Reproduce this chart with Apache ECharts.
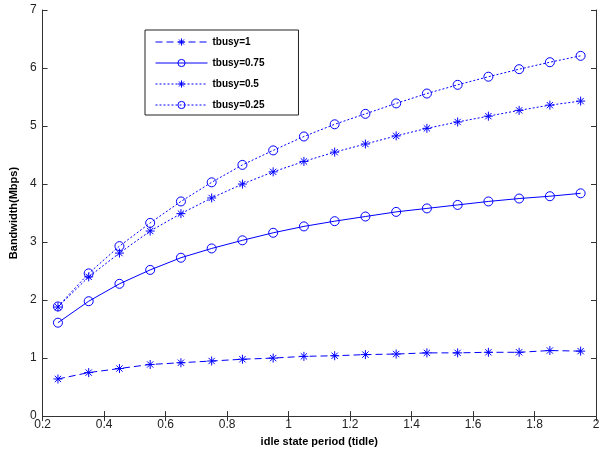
<!DOCTYPE html>
<html>
<head>
<meta charset="utf-8">
<script src="https://cdn.jsdelivr.net/npm/echarts@6/dist/echarts.min.js"></script>
<style>
  html, body { margin: 0; padding: 0; background: #fff; }
  #chart { width: 604px; height: 452px; }
</style>
</head>
<body>
<div id="chart"></div>
<script>
// idle state period (tidle)
var tidle = [0.25, 0.35, 0.45, 0.55, 0.65, 0.75, 0.85, 0.95, 1.05, 1.15,
             1.25, 1.35, 1.45, 1.55, 1.65, 1.75, 1.85, 1.95];

// bandwidth (Mbps) for each tbusy
var bw1   = [0.64, 0.75, 0.82, 0.89, 0.92, 0.95, 0.98, 1.00, 1.03, 1.04,
             1.06, 1.07, 1.09, 1.09, 1.10, 1.10, 1.13, 1.12];
var bw075 = [1.61, 1.98, 2.28, 2.52, 2.73, 2.89, 3.03, 3.16, 3.27, 3.36,
             3.44, 3.52, 3.58, 3.64, 3.70, 3.75, 3.79, 3.84];
var bw05  = [1.88, 2.40, 2.81, 3.19, 3.49, 3.76, 4.00, 4.21, 4.39, 4.55,
             4.69, 4.83, 4.96, 5.07, 5.17, 5.27, 5.36, 5.43];
var bw025 = [1.89, 2.46, 2.93, 3.33, 3.70, 4.03, 4.33, 4.58, 4.82, 5.03,
             5.21, 5.39, 5.56, 5.71, 5.85, 5.98, 6.10, 6.21];

var seriesNames = ['tbusy=1', 'tbusy=0.75', 'tbusy=0.5', 'tbusy=0.25'];

var blue = '#0000ff';
var star = 'path://M0,-1L0,1M-1,0L1,0M-0.7,-0.7L0.7,0.7M-0.7,0.7L0.7,-0.7';
var font = 'Liberation Sans, Arial, sans-serif';

function pairs(ys) {
  return tidle.map(function (x, i) { return [x, ys[i]]; });
}

function makeSeries(name, ys, symbol, dash) {
  return {
    name: name,
    type: 'line',
    data: pairs(ys),
    symbol: symbol,
    symbolSize: 9,
    showAllSymbol: true,
    lineStyle: { color: blue, width: 1, type: dash },
    itemStyle: {
      color: symbol === 'circle' ? 'rgba(0,0,0,0)' : blue,
      borderColor: blue,
      borderWidth: 1
    },
    emphasis: { disabled: true },
    animation: false
  };
}

var chart = echarts.init(document.getElementById('chart'));

var axisLine = { show: true, lineStyle: { color: '#333', width: 1 } };
var axisTick = { show: true, inside: true, length: 5, lineStyle: { color: '#333' } };

chart.setOption({
  backgroundColor: '#fff',
  animation: false,
  grid: { left: 42, right: 8, top: 10, bottom: 34 },
  legend: {
    orient: 'vertical',
    left: 145,
    top: 30,
    data: seriesNames,
    itemWidth: 52,
    itemHeight: 9,
    itemGap: 11,
    padding: [7, 34, 5, 10],
    borderColor: '#222',
    borderWidth: 1,
    backgroundColor: '#fff',
    lineStyle: { width: 1 },
    itemStyle: { borderWidth: 1 },
    textStyle: { fontFamily: font, fontWeight: 'bold', fontSize: 10, color: '#000' }
  },
  xAxis: [{
    type: 'value',
    min: 0.2,
    max: 2,
    interval: 0.2,
    name: 'idle state period (tidle)',
    nameLocation: 'middle',
    nameGap: 17,
    nameTextStyle: { fontFamily: font, fontWeight: 'bold', fontSize: 11, color: '#000' },
    axisLine: axisLine,
    axisTick: axisTick,
    axisLabel: { fontFamily: font, fontSize: 12, color: '#222', margin: 3 },
    splitLine: { show: false }
  }, {
    type: 'value',
    position: 'top',
    min: 0.2,
    max: 2,
    interval: 0.2,
    axisLine: axisLine,
    axisTick: axisTick,
    axisLabel: { show: false },
    splitLine: { show: false }
  }],
  yAxis: [{
    type: 'value',
    min: 0,
    max: 7,
    interval: 1,
    name: 'Bandwidth(Mbps)',
    nameLocation: 'middle',
    nameGap: 20,
    nameTextStyle: { fontFamily: font, fontWeight: 'bold', fontSize: 11, color: '#000' },
    axisLine: axisLine,
    axisTick: axisTick,
    axisLabel: { fontFamily: font, fontSize: 12, color: '#222', margin: 6 },
    splitLine: { show: false }
  }, {
    type: 'value',
    position: 'right',
    min: 0,
    max: 7,
    interval: 1,
    axisLine: axisLine,
    axisTick: axisTick,
    axisLabel: { show: false },
    splitLine: { show: false }
  }],
  series: [
    makeSeries(seriesNames[0], bw1, star, [7, 4]),
    makeSeries(seriesNames[1], bw075, 'circle', 'solid'),
    makeSeries(seriesNames[2], bw05, star, [2, 2]),
    makeSeries(seriesNames[3], bw025, 'circle', [2, 2])
  ]
});
</script>
</body>
</html>
